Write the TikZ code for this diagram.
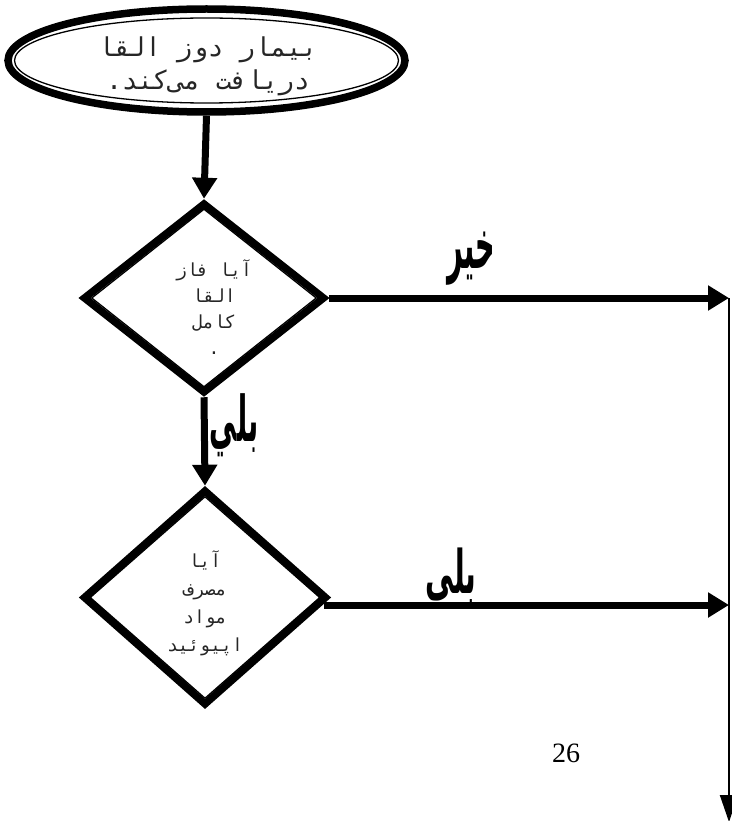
\documentclass[tikz,border=0pt]{standalone}
\usepackage{fontspec}
\usepackage{graphicx}
\usetikzlibrary{shapes.geometric,arrows.meta}
\TeXXeTstate=1
\newfontfamily\arabmono[Script=Arabic]{DejaVu Sans Mono}
\newfontfamily\arabbold[Script=Arabic]{DejaVu Sans}
\setmainfont{Liberation Serif}
\tikzset{
  outerline/.style={draw, line width=7.5, miter limit=10, inner sep=0, fill=none},
  innerline/.style={draw, line width=1.3, inner sep=0},
  conn/.style={line width=7, -{Triangle[length=21,width=24]}},
  thinconn/.style={line width=2, -{Triangle[length=27,width=18]}},
  monotext/.style={align=center, text=black!85, inner sep=0},
  lbl/.style={inner sep=0, font=\arabbold\bfseries\fontsize{30}{30}\selectfont},
}
\begin{document}
\begin{tikzpicture}[x=1pt,y=-1pt]
\useasboundingbox (0,0) rectangle (731,821);
% start ellipse
\node (e) [ellipse, outerline, minimum width=397, minimum height=103] at (206.5,60.5) {};
\node (ei) [ellipse, innerline, minimum width=384, minimum height=85] at (206.5,60.5) {};
\node (et) [monotext, font=\arabmono\fontsize{26}{33}\selectfont] at (208,66)
  {\beginR بیمار دوز القا\endR\\ \beginR دریافت می‌کند.\endR};
% decision 1
\node (d1) [diamond, outerline, minimum width=242, minimum height=191] at (204,298) {};
\node (d1i) [diamond, innerline, minimum width=225, minimum height=178] at (204,298) {};
\node (d1t) [monotext, font=\arabmono\fontsize{18}{26}\selectfont] at (214,307)
  {\beginR آیا فاز\endR\\ \beginR القا\endR\\ \beginR کامل\endR\\ .};
% decision 2
\node (d2) [diamond, outerline, minimum width=244, minimum height=216] at (205,597.5) {};
\node (d2i) [diamond, innerline, minimum width=230, minimum height=202] at (205,597.5) {};
\node (d2t) [monotext, font=\arabmono\fontsize{18}{28}\selectfont] at (205,603)
  {\beginR آیا\endR\\ \beginR مصرف\endR\\ \beginR مواد\endR\\ \beginR اپیوئید\endR};
% right side
\coordinate (r1) at (729,298);
\coordinate (r2) at (729,605);
\coordinate (r3) at (729,822);
\coordinate (s2) at ([xshift=-7pt]d2.east);
% connectors
\draw[conn] (e.south) -- (d1.north);
\draw[conn] (d1.east) -- (r1);
\draw[conn] (d1.south) -- (d2.north);
\draw[conn] (s2 |- r2) -- (r2);
\draw[thinconn] (r1) -- (r3);
% labels
\node (lno) [lbl] at (471,259) {\scalebox{0.9}[2.3]{\beginR خیر\endR}};
\node (lyes1) [lbl] at (234,425) {\scalebox{0.9}[2.1]{\beginR بلي\endR}};
\node (lyes2) [lbl] at (451,576) {\scalebox{0.95}[2.0]{\beginR بلى\endR}};
\node (pg) [inner sep=0, font=\fontsize{28}{28}\selectfont] at (566,753) {26};
\end{tikzpicture}
\end{document}
